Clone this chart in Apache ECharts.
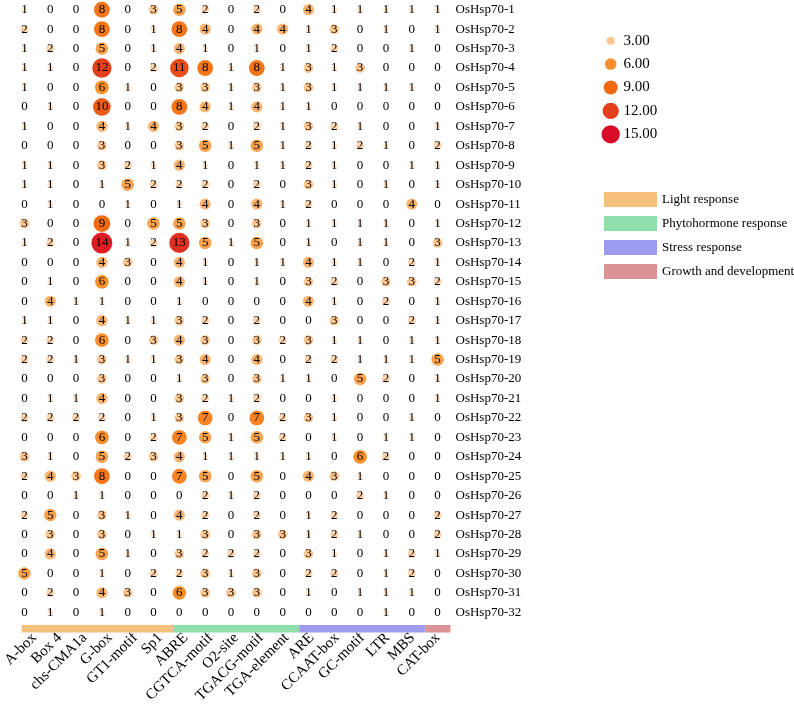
<!DOCTYPE html>
<html>
<head>
<meta charset="utf-8">
<title>OsHsp70 cis-elements</title>
<script src="https://cdn.jsdelivr.net/npm/echarts@6/dist/echarts.min.js"></script>
<style>
  html, body { margin: 0; padding: 0; background: #fff; }
  #bubbleChart { width: 794px; height: 706px; }
</style>
</head>
<body>
<div id="bubbleChart"></div>
<script>
const motifs = ['A-box', 'Box 4', 'chs-CMA1a', 'G-box', 'GT1-motif', 'Sp1', 'ABRE', 'CGTCA-motif', 'O2-site',
  'TGACG-motif', 'TGA-element', 'ARE', 'CCAAT-box', 'GC-motif', 'LTR', 'MBS', 'CAT-box']
const genes = ['OsHsp70-1', 'OsHsp70-2', 'OsHsp70-3', 'OsHsp70-4', 'OsHsp70-5', 'OsHsp70-6', 'OsHsp70-7', 'OsHsp70-8',
  'OsHsp70-9', 'OsHsp70-10', 'OsHsp70-11', 'OsHsp70-12', 'OsHsp70-13', 'OsHsp70-14', 'OsHsp70-15', 'OsHsp70-16',
  'OsHsp70-17', 'OsHsp70-18', 'OsHsp70-19', 'OsHsp70-20', 'OsHsp70-21', 'OsHsp70-22', 'OsHsp70-23', 'OsHsp70-24',
  'OsHsp70-25', 'OsHsp70-26', 'OsHsp70-27', 'OsHsp70-28', 'OsHsp70-29', 'OsHsp70-30', 'OsHsp70-31', 'OsHsp70-32']
// one row per gene, columns in motif order
const counts = [
  [1, 0, 0, 8, 0, 3, 5, 2, 0, 2, 0, 4, 1, 1, 1, 1, 1],
  [2, 0, 0, 8, 0, 1, 8, 4, 0, 4, 4, 1, 3, 0, 1, 0, 1],
  [1, 2, 0, 5, 0, 1, 4, 1, 0, 1, 0, 1, 2, 0, 0, 1, 0],
  [1, 1, 0, 12, 0, 2, 11, 8, 1, 8, 1, 3, 1, 3, 0, 0, 0],
  [1, 0, 0, 6, 1, 0, 3, 3, 1, 3, 1, 3, 1, 1, 1, 1, 0],
  [0, 1, 0, 10, 0, 0, 8, 4, 1, 4, 1, 1, 0, 0, 0, 0, 0],
  [1, 0, 0, 4, 1, 4, 3, 2, 0, 2, 1, 3, 2, 1, 0, 0, 1],
  [0, 0, 0, 3, 0, 0, 3, 5, 1, 5, 1, 2, 1, 2, 1, 0, 2],
  [1, 1, 0, 3, 2, 1, 4, 1, 0, 1, 1, 2, 1, 0, 0, 1, 1],
  [1, 1, 0, 1, 5, 2, 2, 2, 0, 2, 0, 3, 1, 0, 1, 0, 1],
  [0, 1, 0, 0, 1, 0, 1, 4, 0, 4, 1, 2, 0, 0, 0, 4, 0],
  [3, 0, 0, 9, 0, 5, 5, 3, 0, 3, 0, 1, 1, 1, 1, 0, 1],
  [1, 2, 0, 14, 1, 2, 13, 5, 1, 5, 0, 1, 0, 1, 1, 0, 3],
  [0, 0, 0, 4, 3, 0, 4, 1, 0, 1, 1, 4, 1, 1, 0, 2, 1],
  [0, 1, 0, 6, 0, 0, 4, 1, 0, 1, 0, 3, 2, 0, 3, 3, 2],
  [0, 4, 1, 1, 0, 0, 1, 0, 0, 0, 0, 4, 1, 0, 2, 0, 1],
  [1, 1, 0, 4, 1, 1, 3, 2, 0, 2, 0, 0, 3, 0, 0, 2, 1],
  [2, 2, 0, 6, 0, 3, 4, 3, 0, 3, 2, 3, 1, 1, 0, 1, 1],
  [2, 2, 1, 3, 1, 1, 3, 4, 0, 4, 0, 2, 2, 1, 1, 1, 5],
  [0, 0, 0, 3, 0, 0, 1, 3, 0, 3, 1, 1, 0, 5, 2, 0, 1],
  [0, 1, 1, 4, 0, 0, 3, 2, 1, 2, 0, 0, 1, 0, 0, 0, 1],
  [2, 2, 2, 2, 0, 1, 3, 7, 0, 7, 2, 3, 1, 0, 0, 1, 0],
  [0, 0, 0, 6, 0, 2, 7, 5, 1, 5, 2, 0, 1, 0, 1, 1, 0],
  [3, 1, 0, 5, 2, 3, 4, 1, 1, 1, 1, 1, 0, 6, 2, 0, 0],
  [2, 4, 3, 8, 0, 0, 7, 5, 0, 5, 0, 4, 3, 1, 0, 0, 0],
  [0, 0, 1, 1, 0, 0, 0, 2, 1, 2, 0, 0, 0, 2, 1, 0, 0],
  [2, 5, 0, 3, 1, 0, 4, 2, 0, 2, 0, 1, 2, 0, 0, 0, 2],
  [0, 3, 0, 3, 0, 1, 1, 3, 0, 3, 3, 1, 2, 1, 0, 0, 2],
  [0, 4, 0, 5, 1, 0, 3, 2, 2, 2, 0, 3, 1, 0, 1, 2, 1],
  [5, 0, 0, 1, 0, 2, 2, 3, 1, 3, 0, 2, 2, 0, 1, 2, 0],
  [0, 2, 0, 4, 3, 0, 6, 3, 3, 3, 0, 1, 0, 1, 1, 1, 0],
  [0, 1, 0, 1, 0, 0, 0, 0, 0, 0, 0, 0, 0, 0, 1, 0, 0]
]
const groupNames = ['Light response', 'Phytohormone response', 'Stress response', 'Growth and development']
const groupColors = ['#f5bf7c', '#8fdfab', '#9e9cf0', '#da9494']
const motifGroup = [0, 0, 0, 0, 0, 0, 1, 1, 1, 1, 1, 2, 2, 2, 2, 2, 3]
const sizeValues = [3, 6, 9, 12, 15]
const sizeLabels = ['3.00', '6.00', '9.00', '12.00', '15.00']

const serif = 'Liberation Serif'
const bubbleColors = ['#fff4ec', '#fdc690', '#f98f2c', '#f26a10', '#e4401d', '#d90b26']

let cells = []
counts.forEach((row, r) => {
  row.forEach((v, c) => {
    cells.push([c, r, v])
  })
})

// each group is one stacked segment, its length = number of motifs in it
let groupSeries = groupNames.map((name, g) => ({
  name: name,
  type: 'bar',
  xAxisIndex: 3,
  yAxisIndex: 1,
  stack: 'grp',
  barWidth: '100%',
  itemStyle: { color: groupColors[g] },
  data: [motifGroup.filter(x => x === g).length]
}))

let myChart = echarts.init(document.getElementById('bubbleChart'))
const option = {
  animation: false,
  grid: [
    { left: 11.5, top: -2, width: 439, height: 624 },
    { left: 11.5, top: 625, width: 439, height: 8 },
    { left: 600, top: 29, width: 21.4, height: 117 }
  ],
  xAxis: [
    { type: 'category', gridIndex: 0, data: motifs, show: false },
    {
      type: 'category', gridIndex: 1, data: motifs,
      axisLine: { show: false },
      axisTick: { show: false },
      axisLabel: { interval: 0, rotate: 45, margin: 3, fontFamily: serif, fontSize: 15, color: '#000' }
    },
    { type: 'category', gridIndex: 2, data: [''], show: false },
    { type: 'value', gridIndex: 1, min: 0, max: motifs.length, show: false }
  ],
  yAxis: [
    {
      type: 'category', gridIndex: 0, data: genes, inverse: true, position: 'right',
      axisLine: { show: false },
      axisTick: { show: false },
      axisLabel: { margin: 5, fontFamily: serif, fontSize: 13, color: '#000' }
    },
    { type: 'category', gridIndex: 1, data: [''], show: false },
    {
      type: 'category', gridIndex: 2, data: sizeLabels, inverse: true, position: 'right',
      axisLine: { show: false },
      axisTick: { show: false },
      axisLabel: { margin: 2, fontFamily: serif, fontSize: 15, color: '#000' }
    }
  ],
  visualMap: {
    show: false,
    type: 'continuous',
    seriesIndex: [0, 1],
    dimension: 2,
    min: 0,
    max: 15,
    inRange: { color: bubbleColors }
  },
  legend: {
    data: groupNames,
    orient: 'vertical',
    left: 604,
    top: 192,
    padding: 0,
    icon: 'rect',
    itemWidth: 53,
    itemHeight: 15,
    itemGap: 9,
    selectedMode: false,
    textStyle: { fontFamily: serif, fontSize: 13, color: '#000' }
  },
  series: [
    {
      type: 'scatter',
      xAxisIndex: 0,
      yAxisIndex: 0,
      data: cells,
      symbolSize: d => d[2] ? 5.6 * Math.sqrt(d[2]) : 0,
      itemStyle: { opacity: 1 },
      label: {
        show: true,
        position: 'inside',
        formatter: p => p.value[2],
        fontFamily: serif,
        fontSize: 13,
        color: '#000'
      }
    },
    {
      type: 'scatter',
      xAxisIndex: 2,
      yAxisIndex: 2,
      data: sizeValues.map((v, i) => [0, i, v]),
      symbolSize: d => 4.7 * Math.sqrt(d[2]),
      itemStyle: { opacity: 1 }
    },
    ...groupSeries
  ]
}
myChart.setOption(option)
</script>
</body>
</html>
